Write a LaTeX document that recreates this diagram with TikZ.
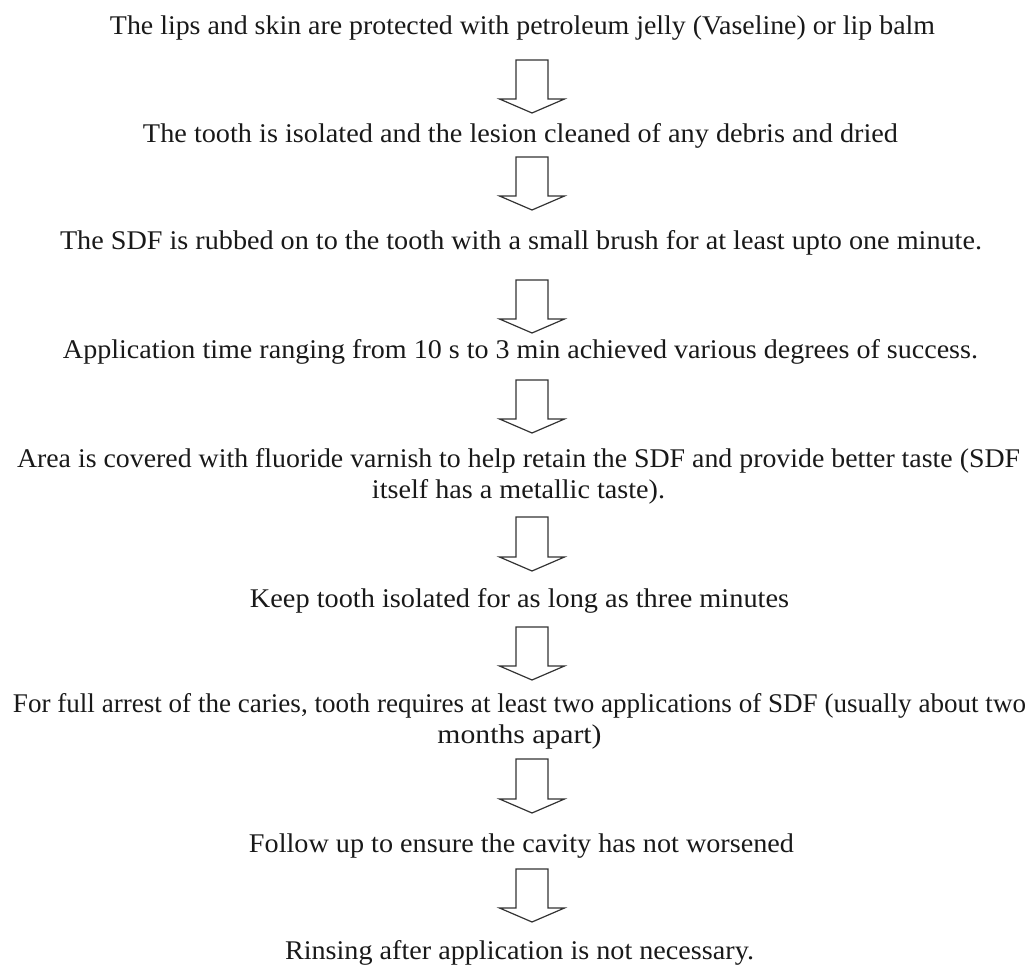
\documentclass[tikz,border=0pt]{standalone}
\usepackage{fontspec}
\usepackage{graphicx}
\setmainfont{Liberation Serif}
\usetikzlibrary{calc}
\newcommand\fitline[2]{\resizebox{#1pt}{\height}{#2}}
\begin{document}
\begin{tikzpicture}[x=1pt,y=-1pt,
  steptext/.style={anchor=base,inner sep=0pt,align=center,font=\fontsize{27}{30.5}\selectfont,text=black!90},
  blockarrow/.style={draw=black!80,line width=1.2pt,fill=white,line join=miter,
    to path={let \p1=(\tikztostart),\p2=(\tikztotarget) in
      (\x1-16pt,\y1) -- (\x1+16pt,\y1) -- (\x1+16pt,\y2+14pt) -- (\x1+32.5pt,\y2+14pt)
      -- (\x2,\y2) -- (\x1-32.5pt,\y2+14pt) -- (\x1-16pt,\y2+14pt) -- cycle}}]
\useasboundingbox (0,0) rectangle (1031,965);
\node[steptext] (s1) at (522.5,35) {\fitline{825}{The lips and skin are protected with petroleum jelly (Vaseline) or lip balm}};
\node[steptext] (s2) at (520.5,143) {\fitline{755}{The tooth is isolated and the lesion cleaned of any debris and dried}};
\node[steptext] (s3) at (521,250) {\fitline{922}{The SDF is rubbed on to the tooth with a small brush for at least upto one minute.}};
\node[steptext] (s4) at (520.5,359) {\fitline{915}{Application time ranging from 10 s to 3 min achieved various degrees of success.}};
\node[steptext] (s5) at (518.5,498) {\fitline{1003}{Area is covered with fluoride varnish to help retain the SDF and provide better taste (SDF}\\\fitline{293}{itself has a metallic taste).}};
\node[steptext] (s6) at (519.5,607) {\fitline{539}{Keep tooth isolated for as long as three minutes}};
\node[steptext] (s7) at (519.5,743) {\fitline{1013}{For full arrest of the caries, tooth requires at least two applications of SDF (usually about two}\\\fitline{164}{months apart)}};
\node[steptext] (s8) at (521.5,852) {\fitline{545}{Follow up to ensure the cavity has not worsened}};
\node[steptext] (s9) at (519.5,959) {\fitline{469}{Rinsing after application is not necessary.}};
\coordinate (a1t) at (532,60);  \coordinate (a1b) at (532,113);
\coordinate (a2t) at (532,157); \coordinate (a2b) at (532,210);
\coordinate (a3t) at (532,280); \coordinate (a3b) at (532,333);
\coordinate (a4t) at (532,380); \coordinate (a4b) at (532,433);
\coordinate (a5t) at (532,517); \coordinate (a5b) at (532,571);
\coordinate (a6t) at (532,627); \coordinate (a6b) at (532,680);
\coordinate (a7t) at (532,759); \coordinate (a7b) at (532,813);
\coordinate (a8t) at (532,869); \coordinate (a8b) at (532,922);
\foreach \i in {1,...,8} {\draw[blockarrow] (a\i t) to (a\i b);}
\end{tikzpicture}
\end{document}
